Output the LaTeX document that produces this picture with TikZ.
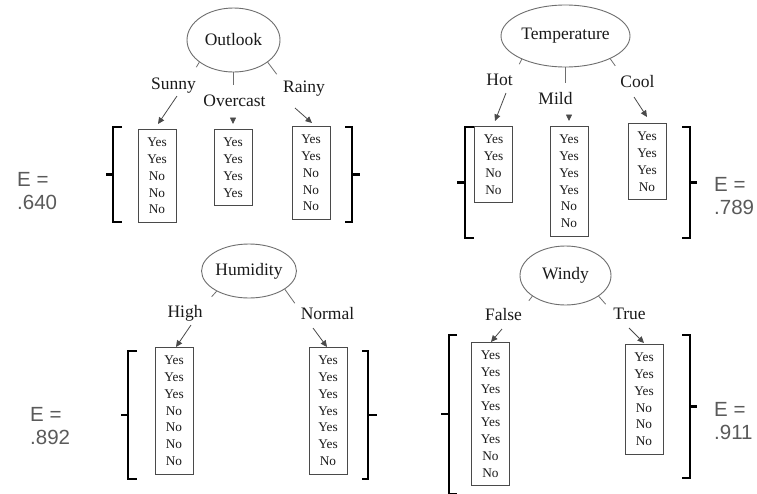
\documentclass[tikz,border=0pt]{standalone}
\usepackage{fontspec}
\setmainfont{Liberation Serif}
\newfontfamily\esans{Liberation Sans}
\usetikzlibrary{shapes.geometric,arrows.meta,calc}
\definecolor{ink}{HTML}{1A1A1A}
\definecolor{rim}{HTML}{6E6E6E}
\definecolor{boxline}{HTML}{4A4A4A}
\definecolor{scoregray}{HTML}{5A5A5A}

\begin{document}
\begin{tikzpicture}[x=1pt,y=-1pt,
  attr/.style={ellipse,draw=rim,line width=0.9pt,inner sep=0pt,text=ink,
    font=\fontsize{17.5}{20}\selectfont},
  branch/.style={anchor=base,inner sep=0pt,text=ink,
    font=\fontsize{17.5}{20}\selectfont},
  leaf/.style={draw=boxline,line width=0.9pt,anchor=north,minimum width=38pt,
    inner xsep=0pt,inner ysep=8.5pt,align=center,text=ink,
    font=\fontsize{13.3}{16.8}\selectfont},
  stub/.style={draw=rim,line width=0.8pt},
  arr/.style={draw=boxline,line width=0.8pt,-{Triangle[length=6.5pt,width=6pt]}},
  brace/.style={draw=black,line width=2.2pt,line join=miter},
  entropy/.style={anchor=north west,inner sep=0pt,align=left,text=scoregray,
    font=\esans\fontsize{20.5}{23.5}\selectfont}]

\clip (0,0) rectangle (757,493);
\fill[white] (0,0) rectangle (757,493);

% ---------- Outlook ----------
\node[attr,minimum width=93pt,minimum height=64pt] (outlook) at (233.5,40) {Outlook};
\node[branch] (sunny) at (173.5,89) {Sunny};
\node[branch] (overcast) at (234.5,106) {Overcast};
\node[branch] (rainy) at (304,92) {Rainy};
\node[leaf] (sunnybox) at (157,129) {Yes\\Yes\\No\\No\\No};
\node[leaf] (overcastbox) at (233,129) {Yes\\Yes\\Yes\\Yes};
\node[leaf] (rainybox) at (311,126) {Yes\\Yes\\No\\No\\No};
\draw[stub] (outlook.213) -- ++(-3,5);
\draw[stub] (outlook.south) -- ++(0,13);
\draw[stub] (outlook.327) -- ++(9,12);
\draw[arr] ($(sunny.base)+(3.5,7)$) -- ($(sunnybox.north)+(1,-5)$);
\draw[arr] ($(overcast.base)+(-1.5,12)$) -- ($(overcastbox.north)+(0,-5)$);
\draw[arr] ($(rainy.base)+(-9,16)$) -- ($(rainybox.north)+(1,-3)$);
\draw[brace] (122,127) -- (113,127) -- (113,222) -- (122,222);
\draw[brace] (113,174.5) -- (106,174.5);
\draw[brace] (345,127) -- (352,127) -- (352,222) -- (345,222);
\draw[brace] (352,174.5) -- (360,174.5);
\node[entropy] (eoutlook) at (17,172) {E =\\.640};

% ---------- Temperature ----------
\node[attr,minimum width=129pt,minimum height=62pt] (temp) at (565.5,36) {Temperature};
\node[branch] (hot) at (499.5,85) {Hot};
\node[branch] (mild) at (555.5,104) {Mild};
\node[branch] (cool) at (637.5,87) {Cool};
\node[leaf] (hotbox) at (493.5,126) {Yes\\Yes\\No\\No};
\node[leaf] (mildbox) at (569,126) {Yes\\Yes\\Yes\\Yes\\No\\No};
\node[leaf] (coolbox) at (647,123) {Yes\\Yes\\Yes\\No};
\draw[stub] (temp.208) -- ++(-2.5,5);
\draw[stub] (temp.south) -- ++(0,16);
\draw[stub] (temp.333) -- ++(5,7);
\draw[arr] ($(hot.base)+(6.5,8)$) -- ($(hotbox.north)+(1.5,-5)$);
\draw[arr] ($(mild.base)+(13.5,11)$) -- ($(mildbox.north)+(0,-5)$);
\draw[arr] ($(cool.base)+(-3.5,10)$) -- ($(coolbox.north)+(0,-6)$);
\draw[brace] (474,127) -- (465,127) -- (465,238) -- (474,238);
\draw[brace] (465,182.5) -- (457,182.5);
\draw[brace] (682,127) -- (690,127) -- (690,238) -- (682,238);
\draw[brace] (690,182.5) -- (697,182.5);
\node[entropy] (etemp) at (714,177) {E =\\.789};

% ---------- Humidity ----------
\node[attr,minimum width=92pt,minimum height=54pt] (humid) at (249,271) {Humidity};
\node[branch] (high) at (185,317) {High};
\node[branch] (normal) at (327.5,319) {Normal};
\node[leaf] (highbox) at (174,347) {Yes\\Yes\\Yes\\No\\No\\No\\No};
\node[leaf] (normalbox) at (328,347) {Yes\\Yes\\Yes\\Yes\\Yes\\Yes\\No};
\draw[stub] (humid.212) -- ++(-5,5.5);
\draw[stub] (humid.333) -- ++(10,14);
\draw[arr] ($(high.base)+(6,8)$) -- ($(highbox.north)+(2,0)$);
\draw[arr] ($(normal.base)+(-14.5,9)$) -- ($(normalbox.north)+(-1,0)$);
\draw[brace] (137,351) -- (128,351) -- (128,479) -- (137,479);
\draw[brace] (128,415) -- (121,415);
\draw[brace] (362,351) -- (368,351) -- (368,479) -- (362,479);
\draw[brace] (368,415) -- (377,415);
\node[entropy] (ehumid) at (30,407) {E =\\.892};

% ---------- Windy ----------
\node[attr,minimum width=91pt,minimum height=59pt] (windy) at (565.5,275.5) {Windy};
\node[branch] (false) at (503.5,320) {False};
\node[branch] (true) at (629.5,319) {True};
\node[leaf] (falsebox) at (490.5,342) {Yes\\Yes\\Yes\\Yes\\Yes\\Yes\\No\\No};
\node[leaf] (truebox) at (644,344) {Yes\\Yes\\Yes\\No\\No\\No};
\draw[stub] (windy.212) -- ++(-3.5,4.5);
\draw[stub] (windy.328) -- ++(7,8);
\draw[arr] ($(false.base)+(-1.5,9)$) -- ($(falsebox.north)+(0.5,0)$);
\draw[arr] ($(true.base)+(-0.5,9)$) -- ($(truebox.north)+(0,-1)$);
\draw[brace] (457,335) -- (449,335) -- (449,494) -- (457,494);
\draw[brace] (449,414) -- (441,414);
\draw[brace] (682,335) -- (690,335) -- (690,478) -- (682,478);
\draw[brace] (690,406.5) -- (697,406.5);
\node[entropy] (ewindy) at (714,402) {E =\\.911};
\end{tikzpicture}
\end{document}
